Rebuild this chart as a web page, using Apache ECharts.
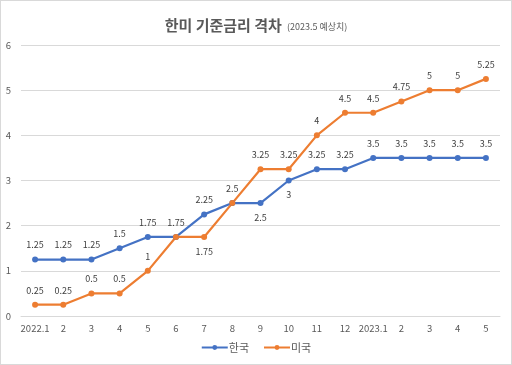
<!DOCTYPE html>
<html><head><meta charset="utf-8">
<script src="https://cdn.jsdelivr.net/npm/echarts@6/dist/echarts.min.js"></script>
<style>html,body{margin:0;padding:0;background:#fff}#c{width:512px;height:365px;box-sizing:border-box;border:1px solid #d9d9d9}</style>
</head><body><div id="c"></div>
<script>
const categories = ['2022.1','2','3','4','5','6','7','8','9','10','11','12','2023.1','2','3','4','5'];
const korea = [1.25,1.25,1.25,1.5,1.75,1.75,2.25,2.5,2.5,3,3.25,3.25,3.5,3.5,3.5,3.5,3.5];
const usa = [0.25,0.25,0.5,0.5,1,1.75,1.75,2.5,3.25,3.25,4,4.5,4.5,4.75,5,5,5.25];
const yTicks = [0,1,2,3,4,5,6];
const koreaBelow = [8,9];
const usaBelow = [6];
const usaHidden = [5,7];

const font = '"Noto Sans CJK KR","Noto Sans",sans-serif';
function mk(vals, below, hidden){
  return vals.map((v,i)=>({value:v,label:{show:!hidden.includes(i),position: below.includes(i)?'bottom':'top'}}));
}
const chart = echarts.init(document.getElementById('c'));
chart.setOption({
  animation:false,
  title:{
    text:'{a|한미 기준금리 격차} {b|(2023.5 예상치)}',
    left:'center', top:10,
    textStyle:{rich:{
      a:{fontSize:15,fontWeight:'bold',color:'#595959',fontFamily:font},
      b:{fontSize:9,fontWeight:'normal',color:'#595959',fontFamily:font,padding:[3,0,0,0]}
    }}
  },
  legend:{
    bottom:6, left:'center', itemGap:14, itemWidth:26, itemHeight:6,
    textStyle:{fontSize:11,color:'#595959',fontFamily:font,padding:[0,0,0,-4]},
    data:['한국','미국']
  },
  grid:{left:20,right:11,top:44,bottom:48},
  xAxis:{
    type:'category', data:categories, boundaryGap:true,
    axisLine:{lineStyle:{color:'#d9d9d9'}},
    axisTick:{show:false},
    axisLabel:{color:'#595959',fontSize:9.5,fontFamily:font,margin:8,interval:0}
  },
  yAxis:{
    type:'value', min:yTicks[0], max:yTicks[yTicks.length-1], interval:1,
    axisLine:{show:false}, axisTick:{show:false},
    axisLabel:{color:'#595959',fontSize:9.5,fontFamily:font,margin:10},
    splitLine:{lineStyle:{color:'#d9d9d9'}}
  },
  series:[
    {name:'한국',type:'line',data:mk(korea,koreaBelow,[]),symbol:'circle',symbolSize:6,
     itemStyle:{color:'#4472C4'},lineStyle:{width:2.2,color:'#4472C4'},
     label:{show:true,fontSize:9,color:'#404040',fontFamily:font,distance:7}},
    {name:'미국',type:'line',data:mk(usa,usaBelow,usaHidden),symbol:'circle',symbolSize:6,
     itemStyle:{color:'#ED7D31'},lineStyle:{width:2.2,color:'#ED7D31'},
     label:{show:true,fontSize:9,color:'#404040',fontFamily:font,distance:7}}
  ]
});
</script></body></html>
